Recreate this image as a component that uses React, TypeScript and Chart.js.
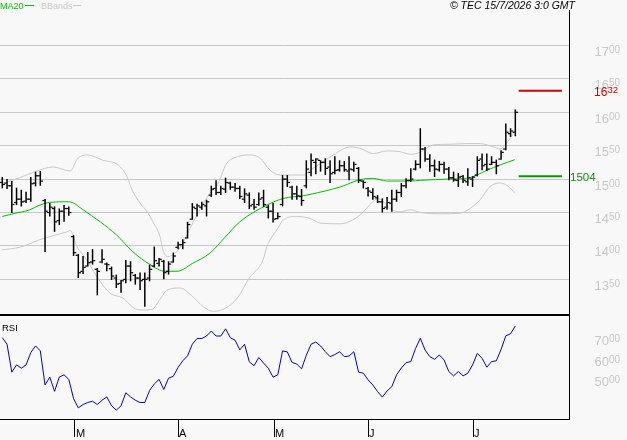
import React, { useEffect, useRef } from 'react';
import { Chart, registerables } from 'chart.js';

Chart.register(...registerables);

// ---- data (day index = position in arrays) ----
const highs = [1503,1500,1497,1487,1484,1481,1503,1511,1512,1470, 1464,1459,1456,1461,1459,1416,1388,1385,1391,1395, 1367,1395,1375,1369,1357,1349,1379,1377,1358,1360, 1360,1372,1399,1382,1379,1377,1390,1406,1410,1436, 1464,1463,1466,1469,1490,1498,1490,1502,1496,1494, 1490,1486,1480,1470,1480,1484,1461,1464,1450,1506, 1506,1490,1490,1485,1528,1538,1531,1528,1531,1528, 1534,1528,1527,1534,1526,1518,1498,1488,1486,1476, 1471,1473,1484,1484,1494,1501,1516,1528,1576,1548, 1537,1529,1527,1526,1518,1511,1509,1506,1516,1504, 1534,1538,1538,1534,1529,1543,1583,1576,1604];
const lows = [1486,1485,1449,1461,1459,1464,1466,1489,1490,1391, 1444,1421,1431,1436,1445,1385,1352,1358,1369,1372, 1326,1374,1362,1349,1337,1330,1344,1347,1342,1334, 1309,1347,1368,1369,1350,1357,1375,1395,1395,1411, 1439,1444,1454,1444,1473,1476,1476,1479,1484,1481, 1470,1464,1455,1454,1460,1458,1441,1435,1440,1459, 1488,1469,1469,1460,1486,1504,1507,1511,1506,1494, 1507,1511,1511,1498,1511,1494,1486,1474,1469,1464, 1450,1454,1451,1466,1473,1486,1496,1513,1516,1526, 1511,1503,1511,1508,1498,1496,1488,1494,1490,1488, 1504,1513,1512,1521,1507,1529,1543,1563,1564];
const opens = [1495,1494,1490,1465,1470,1467,1470,1494,1505,1468, 1450,1456,1438,1452,1456,1414,1386,1362,1370,1376, 1365,1376,1373,1366,1352,1344,1350,1370,1356,1352, 1350,1352,1370,1374,1377,1362,1376,1398,1402,1412, 1440,1456,1458,1460,1476,1486,1480,1485,1494,1488, 1486,1470,1476,1462,1462,1472,1458,1452,1441,1462, 1500,1488,1478,1474,1490,1510,1525,1528,1525,1518, 1510,1514,1520,1512,1514,1516,1497,1486,1480,1472, 1466,1458,1464,1470,1480,1490,1498,1515,1522,1545, 1530,1520,1514,1522,1515,1502,1498,1504,1496,1500, 1506,1530,1522,1522,1525,1530,1545,1568,1570];
const closes = [1492,1490,1462,1470,1466,1470,1493,1505,1497,1452, 1458,1436,1452,1456,1450,1390,1360,1368,1375,1378, 1362,1380,1372,1355,1343,1348,1370,1360,1352,1348, 1350,1365,1378,1380,1360,1373,1385,1402,1405,1432, 1458,1460,1462,1466,1485,1480,1486,1495,1488,1486, 1474,1478,1460,1458,1470,1462,1452,1440,1444,1500, 1495,1478,1475,1468,1515,1528,1530,1525,1516,1508, 1513,1520,1514,1515,1522,1498,1495,1482,1474,1466, 1456,1465,1470,1480,1490,1498,1500,1522,1545,1530, 1520,1515,1522,1515,1502,1499,1503,1498,1502,1503, 1528,1520,1515,1525,1520,1540,1570,1572,1600];

const rsiValues = [68.5,65.3,51.8,55.3,53.7,55.3,61.3,64.5,62.1,45.6, 49.4,42.5,49.4,50.5,48.3,39.0,34.5,36.1,37.1,37.7, 36.1,38.2,39.8,35.5,33.4,35.5,41.8,39.8,38.2,37.1, 37.1,42.9,46.1,48.3,43.4,48.9,49.8,54.1,57.3,59.7, 65.3,68.1,68.1,69.3,71.7,69.3,69.3,72.8,68.5,67.3, 62.6,65.3,56.8,54.9,58.9,56.2,53.7,49.4,50.5,62.1, 61.6,56.5,55.7,53.4,60.0,65.3,66.4,64.5,61.7,59.3, 60.3,61.7,59.3,59.6,61.7,51.8,51.3,48.1,45.6,42.4, 39.7,42.7,44.8,50.5,53.8,56.4,56.9,63.3,68.2,62.5, 59.3,58.0,60.1,57.7,52.1,50.0,52.1,50.0,51.3,55.3, 60.9,58.5,54.2,56.9,57.3,62.8,69.4,70.4,74.2];

const ma20Pos = [0,2.25,5.8,7.9,10,13.6,14.7,17,20.6,24.1,27.5,31.1,34.3,36.8,40.1,43.7,46.9,50,55.7,59.2,63.4,64.8,71.1,75.3,78.1,80.9,85.9,88,94.3,97.8,99.9,102,104.8,107.9];
const ma20Val = [1444,1448,1454,1461,1465,1466,1465,1454,1436,1416,1391,1372,1362,1362,1374,1389,1413,1436,1461,1471,1475,1477,1488,1499,1501,1497,1497,1498,1500,1501,1506,1513,1521,1529];

const upperPos = [0,3.7,6.9,10.7,14.3,15.9,18,21.2,24.4,26.3,27.3,29,30.5,31.7,33.2,33.8,34.9,35.9,37.8,39.5,41.6,43.7,45.1,47.2,48.6,52.2,54.3,56.4,58.5,63.4,64.8,66.9,69.7,73.2,75.3,78.1,80.9,83.7,85.9,88,90.7,94.3,97.8,100.6,103.4,104.8,106.3,107.9];
const upperVal = [1493,1502,1511,1518,1512,1531,1536,1528,1521,1503,1484,1464,1451,1436,1414,1394,1384,1387,1401,1426,1454,1479,1489,1523,1531,1536,1531,1513,1506,1506,1513,1523,1536,1548,1546,1538,1542,1541,1537,1540,1551,1552,1553,1553,1548,1545,1555,1572];

const lowerPos = [0,3.7,8.6,13.6,14.3,15.7,17.8,19.9,22.7,25.4,27.5,29.5,31.5,33.2,34.7,37.4,40.1,42.3,44.5,47,49.5,52,54.9,55.7,57.8,59.2,62,64.8,66.9,71.1,75.3,78,79.2,80.5,82,83.7,85.9,88,92.2,96.4,98.5,100.6,102.7,104.8,106.5,107.9];
const lowerVal = [1394,1398,1411,1421,1423,1399,1379,1354,1329,1322,1308,1304,1305,1320,1334,1337,1324,1309,1302,1307,1322,1352,1379,1399,1424,1439,1444,1441,1434,1433,1446,1466,1471,1464,1454,1451,1454,1450,1448,1449,1456,1469,1489,1494,1489,1479];

const priceTicks = [1350, 1400, 1450, 1500, 1550, 1600, 1650, 1700];
const rsiTicks = [50, 60, 70];
const monthLabels = ['M', 'A', 'M', 'J', 'J'];
const monthPos = [15.3, 37, 57.2, 77, 99.1];
const levelValues = [1632, 1504];
const levelColors = ['#d40000', '#009a00'];

// ---- styling ----
const F = '"Liberation Sans", Arial, Helvetica, sans-serif';
const BG = '#f8f8f8';
const GRAY = '#c8c8c8';
const X_MIN = -0.484;
const X_MAX = 119.3;
const AXIS_W = 58;

function drawSplit(ctx: CanvasRenderingContext2D, big: string, small: string, rightX: number, bigBase: number, smallBase: number, color: string, bigSize: number, smallSize: number) {
  ctx.save();
  ctx.fillStyle = color;
  ctx.textAlign = 'left';
  ctx.textBaseline = 'alphabetic';
  ctx.font = `${smallSize}px ${F}`;
  const ws = ctx.measureText(small).width;
  ctx.font = `${bigSize}px ${F}`;
  const wb = ctx.measureText(big).width;
  const x0 = rightX - ws - wb;
  ctx.fillText(big, x0, bigBase);
  ctx.font = `${smallSize}px ${F}`;
  ctx.fillText(small, x0 + wb, smallBase);
  ctx.restore();
}

export default function App() {
  const mainRef = useRef<HTMLCanvasElement | null>(null);
  const rsiRef = useRef<HTMLCanvasElement | null>(null);

  useEffect(() => {
    document.body.style.margin = '0';
    document.body.style.background = BG;

    const lastIdx = highs.length - 1;

    const mainPlugin = {
      id: 'mainDecor',
      afterDatasetsDraw(chart: any) {
        const ctx = chart.ctx as CanvasRenderingContext2D;
        const ys = chart.scales.y;
        const meta = chart.getDatasetMeta(0);
        ctx.save();
        ctx.fillStyle = '#000';
        meta.data.forEach((el: any, i: number) => {
          const x = el.x;
          const yo = ys.getPixelForValue(opens[i]);
          const yc = ys.getPixelForValue(closes[i]);
          ctx.fillRect(x - 2.7, yo - 0.5, 2.2, 1.2);
          ctx.fillRect(x + 0.5, yc - 0.5, 2.2, 1.2);
        });
        ctx.restore();
      },
      afterDraw(chart: any) {
        const ctx = chart.ctx as CanvasRenderingContext2D;
        const ys = chart.scales.y;
        // legend
        ctx.save();
        ctx.textAlign = 'left';
        ctx.textBaseline = 'alphabetic';
        ctx.font = `9px ${F}`;
        ctx.fillStyle = '#00c000';
        ctx.fillText('MA20', 0, 9);
        ctx.fillRect(25, 5, 9, 1);
        ctx.fillStyle = GRAY;
        ctx.fillText('BBands', 41, 9);
        ctx.fillRect(73, 5, 8, 1);
        // copyright
        ctx.fillStyle = '#000';
        ctx.font = `italic 10.5px ${F}`;
        ctx.textAlign = 'right';
        ctx.fillText('\u00a9 TEC 15/7/2026 3:0 GMT', 575, 8.5);
        ctx.restore();
        // y tick labels
        ys.ticks.forEach((t: any) => {
          const py = ys.getPixelForValue(t.value);
          const s = String(t.value);
          drawSplit(ctx, s.slice(0, 2), s.slice(2), 620, py + 10.5, py + 7.5, GRAY, 13, 10);
        });
        // level labels
        const pr = ys.getPixelForValue(levelValues[0]);
        const s0 = String(levelValues[0]);
        drawSplit(ctx, s0.slice(0, 2), s0.slice(2), 618, pr + 5, pr + 2, levelColors[0], 12, 9.5);
        const pg = ys.getPixelForValue(levelValues[1]);
        ctx.save();
        ctx.fillStyle = levelColors[1];
        ctx.font = `11.5px ${F}`;
        ctx.textAlign = 'left';
        ctx.fillText(String(levelValues[1]), 570, pg + 4.5);
        ctx.restore();
      },
    };

    const rsiPlugin = {
      id: 'rsiDecor',
      afterDraw(chart: any) {
        const ctx = chart.ctx as CanvasRenderingContext2D;
        const ys = chart.scales.y;
        ctx.save();
        ctx.fillStyle = '#000';
        ctx.font = `9.5px ${F}`;
        ctx.textAlign = 'left';
        ctx.fillText('RSI', 2, 15);
        ctx.restore();
        ys.ticks.forEach((t: any) => {
          const py = ys.getPixelForValue(t.value);
          drawSplit(ctx, String(t.value), '00', 620, py + 10.5, py + 7.5, GRAY, 13, 10);
        });
      },
    };

    const levelDatasets = levelValues.map((v, k) => ({
      type: 'line' as const,
      data: [{ x: lastIdx + 0.7, y: v }, { x: lastIdx + 9.8, y: v }],
      borderColor: levelColors[k],
      borderWidth: 2,
      pointRadius: 0,
      order: 1,
    }));

    const main = new Chart(mainRef.current as HTMLCanvasElement, {
      type: 'bar',
      data: {
        datasets: [
          {
            type: 'bar',
            data: lows.map((l, i) => ({ x: i, y: [l, highs[i]] })) as any,
            backgroundColor: '#000',
            borderWidth: 0,
            barThickness: 1.5,
            grouped: false,
            inflateAmount: 0,
            order: 0,
          } as any,
          {
            type: 'line',
            data: ma20Pos.map((p, i) => ({ x: p, y: ma20Val[i] })),
            borderColor: '#00c000',
            borderWidth: 1,
            pointRadius: 0,
            cubicInterpolationMode: 'monotone',
            order: 2,
          } as any,
          {
            type: 'line',
            data: upperPos.map((p, i) => ({ x: p, y: upperVal[i] })),
            borderColor: GRAY,
            borderWidth: 1,
            pointRadius: 0,
            cubicInterpolationMode: 'monotone',
            order: 3,
          } as any,
          {
            type: 'line',
            data: lowerPos.map((p, i) => ({ x: p, y: lowerVal[i] })),
            borderColor: GRAY,
            borderWidth: 1,
            pointRadius: 0,
            cubicInterpolationMode: 'monotone',
            order: 3,
          } as any,
          ...levelDatasets,
        ],
      },
      options: {
        animation: false,
        responsive: false,
        maintainAspectRatio: false,
        events: [],
        layout: { padding: { top: 10, left: 0, right: 0, bottom: 0 } },
        plugins: { legend: { display: false }, tooltip: { enabled: false } },
        scales: {
          x: {
            type: 'linear',
            offset: false,
            min: X_MIN,
            max: X_MAX,
            grid: { display: false, drawTicks: false, offset: false },
            ticks: { display: false },
            border: { display: true, color: '#000', width: 2 },
            afterFit: (s: any) => { s.height = 1; },
          },
          y: {
            type: 'linear',
            position: 'right',
            min: 1296.6,
            max: 1752.8,
            grid: { color: GRAY, lineWidth: 1, drawTicks: false },
            border: { display: true, color: '#000', width: 1 },
            ticks: { display: false },
            afterBuildTicks: (s: any) => { s.ticks = priceTicks.map((v) => ({ value: v })); },
            afterFit: (s: any) => { s.width = AXIS_W; },
          },
        },
      } as any,
      plugins: [mainPlugin],
    });

    const rsi = new Chart(rsiRef.current as HTMLCanvasElement, {
      type: 'line',
      data: {
        datasets: [
          {
            data: rsiValues.map((v, i) => ({ x: i, y: v })),
            borderColor: '#0000cc',
            borderWidth: 1,
            pointRadius: 0,
            tension: 0,
          },
        ],
      },
      options: {
        animation: false,
        responsive: false,
        maintainAspectRatio: false,
        events: [],
        layout: { padding: 0 },
        plugins: { legend: { display: false }, tooltip: { enabled: false } },
        scales: {
          x: {
            type: 'linear',
            offset: false,
            min: X_MIN,
            max: X_MAX,
            afterBuildTicks: (s: any) => { s.ticks = monthPos.map((v) => ({ value: v })); },
            ticks: {
              callback: (_v: any, i: number) => monthLabels[i],
              autoSkip: false,
              maxRotation: 0,
              minRotation: 0,
              align: 'start',
              padding: -10,
              labelOffset: 1,
              color: '#000',
              font: { family: F, size: 11 },
            },
            grid: { display: true, drawOnChartArea: false, drawTicks: true, tickLength: 18, color: '#000', lineWidth: 1 },
            border: { display: true, color: '#000', width: 1 },
            afterFit: (s: any) => { s.height = 21; },
          },
          y: {
            type: 'linear',
            position: 'right',
            min: 29.1,
            max: 79.0,
            grid: { display: false },
            border: { display: true, color: '#000', width: 1 },
            ticks: { display: false },
            afterBuildTicks: (s: any) => { s.ticks = rsiTicks.map((v) => ({ value: v })); },
            afterFit: (s: any) => { s.width = AXIS_W; },
          },
        },
      } as any,
      plugins: [rsiPlugin],
    });

    return () => {
      main.destroy();
      rsi.destroy();
    };
  }, []);

  return (
    <div style={{ position: 'relative', width: 627, height: 440, background: BG, overflow: 'hidden' }}>
      <canvas ref={mainRef} width={627} height={316} style={{ position: 'absolute', left: 0, top: 0, width: 627, height: 316, display: 'block' }} />
      <canvas ref={rsiRef} width={627} height={124} style={{ position: 'absolute', left: 0, top: 316, width: 627, height: 124, display: 'block' }} />
    </div>
  );
}
